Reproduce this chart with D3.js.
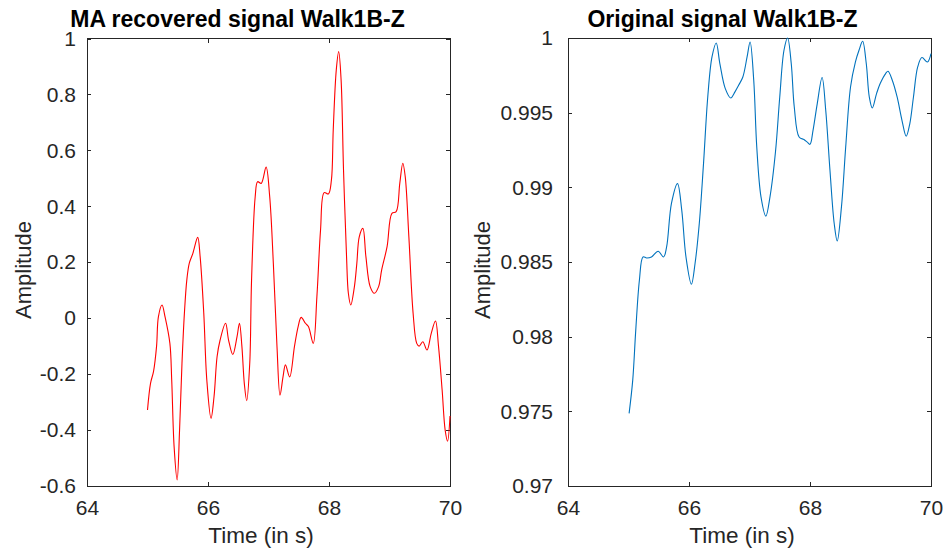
<!DOCTYPE html>
<html><head><meta charset="utf-8">
<script src="https://cdn.jsdelivr.net/npm/d3@7"></script>
<style>body{margin:0;background:#fff;} svg{display:block;}</style>
</head><body>
<svg id="chart" width="945" height="553"></svg>
<script>
const xTicks = [64, 66, 68, 70];
const leftYTicks = [-0.6, -0.4, -0.2, 0, 0.2, 0.4, 0.6, 0.8, 1];
const rightYTicks = [0.97, 0.975, 0.98, 0.985, 0.99, 0.995, 1];
const leftTitle = "MA recovered signal Walk1B-Z";
const rightTitle = "Original signal Walk1B-Z";
const xLabel = "Time (in s)";
const yLabel = "Amplitude";

const maTime = [65.0,65.05,65.10,65.15,65.18,65.24,65.29,65.37,65.40,65.44,65.49,65.53,65.57,65.61,65.65,65.69,65.75,65.83,65.87,65.93,65.98,66.05,66.10,66.15,66.20,66.29,66.34,66.41,66.48,66.52,66.56,66.60,66.64,66.69,66.72,66.78,66.82,66.88,66.96,67.02,67.08,67.14,67.19,67.24,67.28,67.35,67.43,67.49,67.54,67.61,67.66,67.74,67.80,67.86,67.92,67.99,68.04,68.07,68.12,68.16,68.20,68.24,68.29,68.32,68.36,68.42,68.46,68.50,68.56,68.61,68.68,68.75,68.82,68.87,68.96,69.04,69.11,69.17,69.22,69.26,69.32,69.39,69.45,69.49,69.55,69.62,69.69,69.76,69.81,69.87,69.92,69.96,70.00];
const maValue = [-0.328,-0.233,-0.19,-0.10,0.005,0.047,0.005,-0.09,-0.22,-0.46,-0.578,-0.40,-0.161,0.018,0.137,0.196,0.232,0.289,0.22,0.018,-0.22,-0.358,-0.28,-0.138,-0.078,-0.018,-0.078,-0.13,-0.066,-0.018,-0.10,-0.233,-0.295,-0.161,0.137,0.434,0.488,0.482,0.54,0.434,0.196,-0.10,-0.275,-0.21,-0.167,-0.21,-0.10,-0.03,0.003,-0.018,-0.03,-0.09,0.077,0.315,0.449,0.444,0.494,0.673,0.887,0.953,0.852,0.53,0.22,0.089,0.047,0.113,0.196,0.291,0.321,0.22,0.113,0.089,0.113,0.172,0.256,0.375,0.381,0.482,0.554,0.506,0.291,0.018,-0.09,-0.10,-0.084,-0.114,-0.054,-0.01,-0.10,-0.257,-0.40,-0.44,-0.35];

const origTime = [65.01,65.07,65.12,65.18,65.24,65.30,65.38,65.49,65.58,65.63,65.71,65.81,65.88,65.95,66.04,66.10,66.17,66.24,66.31,66.38,66.45,66.51,66.60,66.69,66.76,66.82,66.89,66.96,67.01,67.07,67.12,67.19,67.27,67.34,67.43,67.50,67.57,67.63,67.69,67.74,67.82,67.90,67.95,68.00,68.05,68.12,68.20,68.26,68.33,68.40,68.45,68.52,68.59,68.67,68.75,68.81,68.87,68.93,68.98,69.03,69.10,69.16,69.25,69.29,69.36,69.44,69.52,69.59,69.65,69.71,69.78,69.85,69.94,70.00];
const origValue = [0.97486,0.97709,0.98044,0.98378,0.98534,0.98527,0.98534,0.98572,0.98534,0.98601,0.98892,0.99025,0.98847,0.98534,0.98351,0.98490,0.98758,0.99159,0.99605,0.99873,0.99967,0.99829,0.99661,0.99598,0.99639,0.99683,0.99739,0.99873,0.99973,0.99717,0.99270,0.98936,0.98807,0.98940,0.99240,0.99605,0.99918,1.0000,0.99829,0.99538,0.99337,0.99320,0.99304,0.99288,0.99382,0.99561,0.99735,0.99516,0.99114,0.98758,0.98641,0.98869,0.99270,0.99672,0.99839,0.99918,0.99978,0.99829,0.99605,0.99531,0.99628,0.99695,0.99762,0.99777,0.99717,0.99605,0.99449,0.99342,0.99427,0.99605,0.99806,0.99869,0.99839,0.99896];

const svg = d3.select("#chart");
const axisColor = "#262626";
const fontFam = "'Liberation Sans', Arial, Helvetica, sans-serif";

function panel(cfg) {
  const {x0, x1, y0, y1, yDomain, yTicks, times, values, color, title, fmt} = cfg;
  const x = d3.scaleLinear().domain([64, 70]).range([x0, x1]);
  const y = d3.scaleLinear().domain(yDomain).range([y1, y0]);
  const g = svg.append("g");
  const tl = 4;
  g.append("rect").attr("x", x0).attr("y", y0).attr("width", x1 - x0).attr("height", y1 - y0)
    .attr("fill", "none").attr("stroke", axisColor).attr("stroke-width", 1).attr("shape-rendering","crispEdges");
  g.append("g").attr("transform", `translate(0,${y1})`)
    .call(d3.axisBottom(x).tickValues(xTicks).tickSize(-tl).tickPadding(14).tickFormat(d => String(d)));
  g.append("g").attr("transform", `translate(0,${y0})`)
    .call(d3.axisTop(x).tickValues(xTicks).tickSize(-tl).tickFormat(""));
  g.append("g").attr("transform", `translate(${x0},0)`)
    .call(d3.axisLeft(y).tickValues(yTicks).tickSize(-tl).tickPadding(cfg.yPad).tickFormat(fmt));
  g.append("g").attr("transform", `translate(${x1},0)`)
    .call(d3.axisRight(y).tickValues(yTicks).tickSize(-tl).tickFormat(""));
  g.selectAll(".domain").remove();
  g.selectAll(".tick line").attr("stroke", axisColor).attr("shape-rendering","crispEdges");
  g.selectAll(".tick text").attr("fill", axisColor).style("font-family", fontFam).style("font-size", "21px");
  const pts = times.map((t, i) => [t, values[i]]);
  g.append("path").datum(pts)
    .attr("fill", "none").attr("stroke", color).attr("stroke-width", 1.1)
    .attr("d", d3.line().x(d => x(d[0])).y(d => y(d[1])).curve(d3.curveCatmullRom.alpha(0.5)));
  g.append("text").attr("x", cfg.titleX).attr("y", 27).attr("text-anchor", "middle")
    .style("font-family", fontFam).style("font-weight", "bold").style("font-size", "23px").attr("fill", "#000").text(title);
  g.append("text").attr("x", cfg.xlX).attr("y", 542.5).attr("text-anchor", "middle")
    .style("font-family", fontFam).style("font-size", "22.5px").attr("fill", axisColor).text(xLabel);
  g.append("text").attr("transform", `translate(${cfg.ylX},270) rotate(-90)`)
    .attr("text-anchor", "middle")
    .style("font-family", fontFam).style("font-size", "22px").attr("fill", axisColor).text(yLabel);
}

panel({x0: 87, x1: 450, y0: 38.5, y1: 486, yDomain: [-0.6, 1], yTicks: leftYTicks,
  times: maTime, values: maValue, color: "#ff0000", title: leftTitle, titleX: 237.5, xlX: 261, ylX: 31, yPad: 11,
  fmt: d => String(+d.toFixed(1))});
panel({x0: 568, x1: 931, y0: 38, y1: 486, yDomain: [0.97, 1], yTicks: rightYTicks,
  times: origTime, values: origValue, color: "#0072BD", title: rightTitle, titleX: 722.5, xlX: 742, ylX: 490, yPad: 15,
  fmt: d => String(+d.toFixed(3))});
</script>
</body></html>
